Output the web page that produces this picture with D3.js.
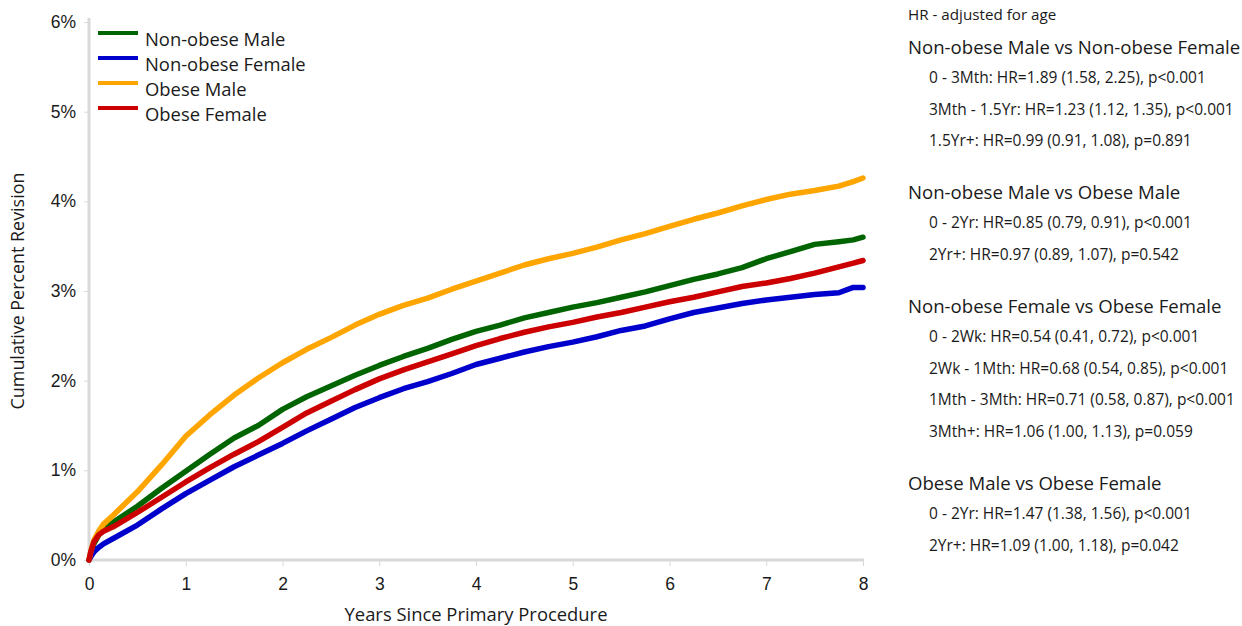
<!DOCTYPE html>
<html>
<head>
<meta charset="utf-8">
<script src="https://cdn.jsdelivr.net/npm/d3@7"></script>
<style>
  body { margin: 0; background: #fff; }
  svg { display: block; font-family: "Open Sans", "Noto Sans", sans-serif; }
</style>
</head>
<body>
<svg id="chart" width="1242" height="626"></svg>
<script>
// ---- data (cumulative percent revision) ----
const years = [0, 0.02, 0.05, 0.1, 0.15, 0.25, 0.5, 0.75, 1, 1.25, 1.5, 1.75, 2, 2.25, 2.5, 2.75, 3, 3.25, 3.5, 3.75, 4, 4.25, 4.5, 4.75, 5, 5.25, 5.5, 5.75, 6, 6.25, 6.5, 6.75, 7, 7.25, 7.5, 7.75, 7.9, 8];
const nonObeseMale   = [0, 0.08, 0.18, 0.28, 0.34, 0.42, 0.60, 0.80, 0.99, 1.18, 1.36, 1.50, 1.68, 1.82, 1.94, 2.06, 2.17, 2.27, 2.36, 2.46, 2.55, 2.62, 2.70, 2.76, 2.82, 2.87, 2.93, 2.99, 3.06, 3.13, 3.19, 3.26, 3.36, 3.44, 3.52, 3.55, 3.57, 3.60];
const nonObeseFemale = [0, 0.04, 0.09, 0.14, 0.18, 0.24, 0.39, 0.57, 0.74, 0.89, 1.04, 1.17, 1.30, 1.44, 1.57, 1.70, 1.81, 1.91, 1.99, 2.08, 2.18, 2.25, 2.32, 2.38, 2.43, 2.49, 2.56, 2.61, 2.69, 2.76, 2.81, 2.86, 2.90, 2.93, 2.96, 2.98, 3.04, 3.04];
const obeseMale      = [0, 0.10, 0.22, 0.32, 0.40, 0.50, 0.76, 1.06, 1.38, 1.62, 1.84, 2.03, 2.20, 2.35, 2.48, 2.62, 2.74, 2.84, 2.92, 3.02, 3.11, 3.20, 3.29, 3.36, 3.42, 3.49, 3.57, 3.64, 3.72, 3.80, 3.87, 3.95, 4.02, 4.08, 4.12, 4.17, 4.22, 4.26];
const obeseFemale    = [0, 0.10, 0.20, 0.28, 0.32, 0.37, 0.53, 0.70, 0.87, 1.03, 1.18, 1.32, 1.48, 1.64, 1.77, 1.90, 2.02, 2.12, 2.21, 2.30, 2.39, 2.47, 2.54, 2.60, 2.65, 2.71, 2.76, 2.82, 2.88, 2.93, 2.99, 3.05, 3.09, 3.14, 3.20, 3.27, 3.31, 3.34];

const seriesNames  = ["Non-obese Male", "Non-obese Female", "Obese Male", "Obese Female"];
const seriesValues = [nonObeseMale, nonObeseFemale, obeseMale, obeseFemale];
const seriesColors = ["#006400", "#0000cd", "#ffa500", "#cc0000"];

const xTicks = [0, 1, 2, 3, 4, 5, 6, 7, 8];
const yTicks = [0, 1, 2, 3, 4, 5, 6];

const hrTitle = "HR - adjusted for age";
const hrGroups = [
  { title: "Non-obese Male vs Non-obese Female",
    items: ["0 - 3Mth: HR=1.89 (1.58, 2.25), p<0.001",
            "3Mth - 1.5Yr: HR=1.23 (1.12, 1.35), p<0.001",
            "1.5Yr+: HR=0.99 (0.91, 1.08), p=0.891"] },
  { title: "Non-obese Male vs Obese Male",
    items: ["0 - 2Yr: HR=0.85 (0.79, 0.91), p<0.001",
            "2Yr+: HR=0.97 (0.89, 1.07), p=0.542"] },
  { title: "Non-obese Female vs Obese Female",
    items: ["0 - 2Wk: HR=0.54 (0.41, 0.72), p<0.001",
            "2Wk - 1Mth: HR=0.68 (0.54, 0.85), p<0.001",
            "1Mth - 3Mth: HR=0.71 (0.58, 0.87), p<0.001",
            "3Mth+: HR=1.06 (1.00, 1.13), p=0.059"] },
  { title: "Obese Male vs Obese Female",
    items: ["0 - 2Yr: HR=1.47 (1.38, 1.56), p<0.001",
            "2Yr+: HR=1.09 (1.00, 1.18), p=0.042"] }
];

// ---- layout ----
const svg = d3.select("#chart");
const plot = { left: 89, right: 863, top: 22, bottom: 560 };
const x = d3.scaleLinear().domain([0, 8]).range([plot.left, plot.right]);
const y = d3.scaleLinear().domain([0, 6]).range([plot.bottom, plot.top]);
const textColor = "#1a1a1a";
const axisColor = "#d9d9d9";

// axes
const xAxis = svg.append("g").attr("transform", `translate(0,${plot.bottom})`)
  .call(d3.axisBottom(x).tickValues(xTicks).tickFormat(d3.format("d")).tickSize(6).tickPadding(8));
const yAxis = svg.append("g").attr("transform", `translate(${plot.left},0)`)
  .call(d3.axisLeft(y).tickValues(yTicks).tickFormat(d => d + "%").tickSize(5).tickPadding(8));
[xAxis, yAxis].forEach(g => {
  g.select(".domain").attr("stroke", axisColor).attr("stroke-width", 3).attr("d",
    g === xAxis ? `M${plot.left - 1},0H${plot.right + 1}` : `M0,${plot.top - 4}V${plot.bottom + 1}`);
  g.selectAll(".tick line").attr("stroke", axisColor).attr("stroke-width", 1);
  g.selectAll(".tick text").attr("fill", textColor).style("font-size", "17.5px");
});
xAxis.selectAll(".tick text").attr("dy", "0.9em");

// axis titles
svg.append("text").attr("x", (plot.left + plot.right) / 2).attr("y", 621)
  .attr("text-anchor", "middle").attr("fill", textColor).style("font-size", "18.4px")
  .text("Years Since Primary Procedure");
svg.append("text").attr("transform", `translate(24,${(plot.top + plot.bottom) / 2}) rotate(-90)`)
  .attr("text-anchor", "middle").attr("fill", textColor).style("font-size", "17.9px")
  .text("Cumulative Percent Revision");

// lines
const line = d3.line().x((d, i) => x(years[i])).y(d => y(d)).curve(d3.curveLinear);
svg.append("g").selectAll("path").data(seriesValues).join("path")
  .attr("d", d => line(d)).attr("fill", "none")
  .attr("stroke", (d, i) => seriesColors[i]).attr("stroke-width", 5.5)
  .attr("stroke-linejoin", "round").attr("stroke-linecap", "round");

// legend
const legend = svg.append("g");
seriesNames.forEach((name, i) => {
  const ly = 33 + i * 25;
  legend.append("line").attr("x1", 98).attr("x2", 138).attr("y1", ly).attr("y2", ly)
    .attr("stroke", seriesColors[i]).attr("stroke-width", 4);
  legend.append("text").attr("x", 145).attr("y", ly + 7).attr("dy", "0.35em")
    .attr("fill", textColor).style("font-size", "18.4px").text(name);
});

// HR panel
const panel = svg.append("g");
panel.append("text").attr("x", 908).attr("y", 15).attr("dy", "0.35em")
  .attr("fill", textColor).style("font-size", "15.2px").text(hrTitle);
const groupTops = [47, 192, 306, 483];
hrGroups.forEach((g, gi) => {
  const t0 = groupTops[gi];
  panel.append("text").attr("x", 908).attr("y", t0).attr("dy", "0.35em")
    .attr("fill", textColor).style("font-size", "18.6px").text(g.title);
  g.items.forEach((it, ii) => {
    panel.append("text").attr("x", 929).attr("y", t0 + 30.5 + ii * 31.6).attr("dy", "0.35em")
      .attr("fill", textColor).style("font-size", "15.5px").text(it);
  });
});
</script>
</body>
</html>
